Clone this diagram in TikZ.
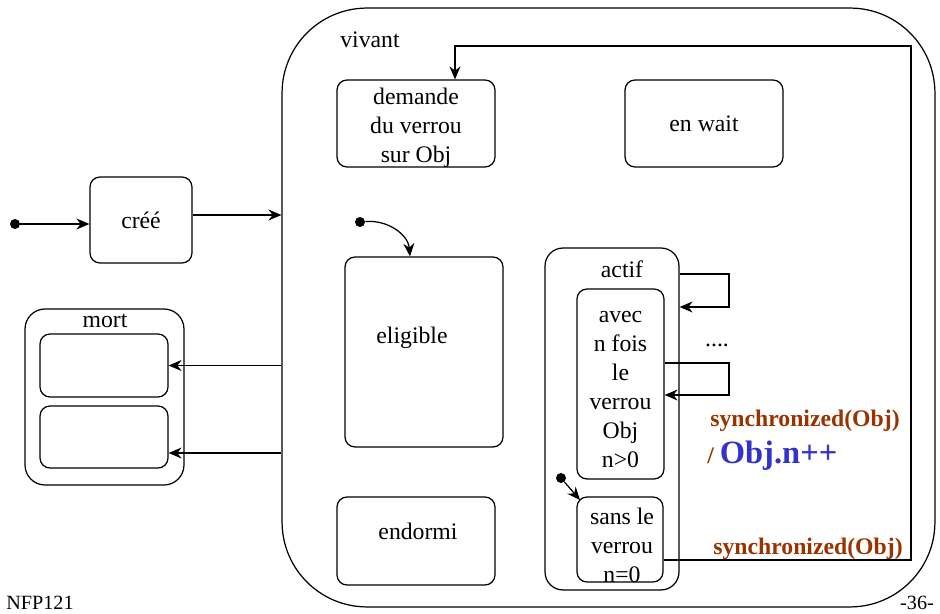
\documentclass[tikz,border=0pt]{standalone}
\usepackage{fontspec}
\setmainfont{Liberation Serif}
\usetikzlibrary{arrows.meta, positioning}
\definecolor{syncbrown}{HTML}{993300}
\definecolor{incblue}{HTML}{3333CC}

\begin{document}
\begin{tikzpicture}[
    x=0.02cm, y=-0.02cm,
    every node/.style={font=\fontsize{13.5}{16.5}\selectfont},
    etat/.style={rectangle, draw, line width=0.7pt, rounded corners=0.2cm,
                 align=center, inner sep=0pt},
    debut/.style={circle, fill, inner sep=0pt, minimum size=2mm},
    arr/.style={-{Stealth[length=2.6mm, width=2.2mm]}, line width=0.7pt},
    sync/.style={font=\fontsize{13.5}{16.5}\selectfont\bfseries, text=syncbrown}
]
    \useasboundingbox (0,0) rectangle (940,614);
    % etat composite vivant
    \node[etat, rounded corners=1.7cm, minimum width=13.06cm, minimum height=11.98cm] (vivant) at (608.5,307.5) {};
    \node (vivantlbl) at (370,40) {vivant};
    \node[etat, minimum width=3.16cm, minimum height=1.74cm] (demande) at (416,123.5) {};
    \node[align=center] (demandelbl) at (416,128) {demande\\du verrou\\sur Obj};
    \node[etat, minimum width=3.16cm, minimum height=1.74cm] (enwait) at (704,123.5) {en wait};
    \node[etat, minimum width=3.16cm, minimum height=3.8cm] (eligible) at (424,352) {};
    \node (eligiblelbl) at (412,338) {eligible};
    \node[etat, minimum width=3.16cm, minimum height=1.76cm] (endormi) at (416,541) {};
    \node (endormilbl) at (418,531) {endormi};
    \node[debut] (init2) at (360,222) {};
    \draw[arr] (init2) to[out=5,in=95] ([xshift=-0.28cm]eligible.north);
    % sous-etat actif
    \node[etat, rounded corners=0.36cm, minimum width=2.68cm, minimum height=6.84cm] (actif) at (612,419) {};
    \node (actiflbl) at (622,269) {actif};
    \node[etat, minimum width=1.74cm, minimum height=3.8cm] (avec) at (620.5,384) {};
    \node[align=center] (aveclbl) at (620.5,390) {avec\\n fois\\le\\verrou\\Obj\\n>0};
    \node[etat, minimum width=1.72cm, minimum height=1.7cm] (sans) at (620,539.5) {};
    \node[align=center] (sanslbl) at (622,545) {sans le\\verrou\\n=0};
    \node[debut] (init3) at (561,478) {};
    \draw[arr] (init3) -- (580,500);
    % boucles
    \coordinate (a1) at (729,274);
    \coordinate (a2) at (729,307);
    \draw[arr] (actif.east |- a1) -- (a1) -- (a2) -- (actif.east |- a2);
    \coordinate (b1) at (729,363);
    \coordinate (b2) at (729,395);
    \draw[arr] (avec.east |- b1) -- (b1) -- (b2) -- (avec.east |- b2);
    \node (dots) at (717,345) {....};
    \coordinate (c2) at (911,46);
    \draw[arr] ([yshift=-0.41cm]sans.east) -| (c2) -| ([xshift=0.78cm]demande.north);
    \node[sync] (sync1) at (805,421) {synchronized(Obj)};
    \node[anchor=west, inner sep=0pt] (inc) at (707,456)
        {{\bfseries\color{syncbrown}/ }{\fontsize{18.5}{20}\selectfont\bfseries\color{incblue}Obj.n++}};
    \node[sync] (sync2) at (808,549) {synchronized(Obj)};
    % cree
    \node[etat, minimum width=2.04cm, minimum height=1.72cm] (cree) at (141,220) {créé};
    \node[debut] (init1) at (15,224) {};
    \draw[arr] (init1) -- (init1 -| cree.west);
    \draw[arr] ([yshift=0.1cm]cree.east) -- ([yshift=0.1cm]cree.east -| vivant.west);
    % mort
    \node[etat, rounded corners=0.4cm, minimum width=3.18cm, minimum height=3.52cm] (mort) at (104.5,397) {};
    \node (mortlbl) at (105,321) {mort};
    \node[etat, minimum width=2.56cm, minimum height=1.26cm] (mort1) at (104,365.5) {};
    \node[etat, minimum width=2.56cm, minimum height=1.24cm] (mort2) at (104,437) {};
    \draw[arr] (mort1.east -| vivant.west) -- (mort1.east);
    \draw[arr] ([yshift=-0.32cm]mort2.east -| vivant.west) -- ([yshift=-0.32cm]mort2.east);
    % pied de page
    \node[font=\fontsize{11.5}{13}\selectfont] (nfp) at (40,603) {NFP121};
    \node[font=\fontsize{11.5}{13}\selectfont] (page) at (917,603) {-36-};
\end{tikzpicture}
\end{document}
